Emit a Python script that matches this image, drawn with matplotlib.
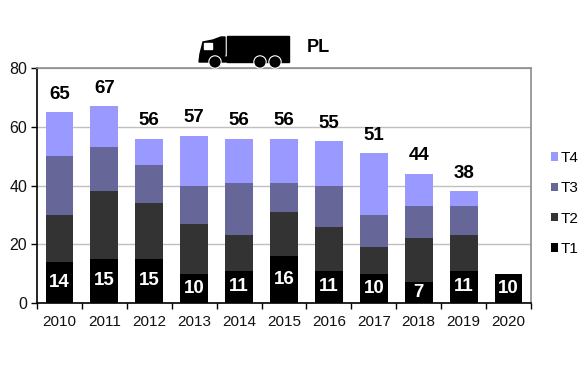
import matplotlib
matplotlib.use("Agg")
import matplotlib.pyplot as plt
import numpy as np
from matplotlib.patches import Circle, Polygon, Rectangle
from matplotlib.transforms import IdentityTransform

W, H = 585, 366

years = ["2010", "2011", "2012", "2013", "2014", "2015", "2016", "2017", "2018", "2019", "2020"]
t1 = [14, 15, 15, 10, 11, 16, 11, 10, 7, 11, 10]
t2 = [16, 23, 19, 17, 12, 15, 15, 9, 15, 12, 0]
t3 = [20, 15, 13, 13, 18, 10, 14, 11, 11, 10, 0]
t4 = [15, 14, 9, 17, 15, 15, 15, 21, 11, 5, 0]
totals = [65, 67, 56, 57, 56, 56, 55, 51, 44, 38]

series = [("T1", t1, "#000000"), ("T2", t2, "#333333"), ("T3", t3, "#666699"), ("T4", t4, "#9999ff")]

plt.rcParams["font.family"] = ["Liberation Sans", "DejaVu Sans"]

fig = plt.figure(figsize=(W / 100, H / 100), dpi=100)
ax = fig.add_axes([37 / W, 1 - 303 / H, (531 - 37) / W, (303 - 68) / H])

x = np.arange(len(years))
bottom = np.zeros(len(years))
for name, values, color in series:
    ax.bar(x, values, 0.62, bottom=bottom, color=color, label=name, zorder=3)
    bottom += np.array(values)

ax.set_xlim(-0.5, len(years) - 0.5)
ax.set_ylim(0, 80)
ax.set_yticks([0, 20, 40, 60, 80])
ax.set_xticks(x)
ax.set_xticklabels(years)
ax.set_xticks(np.arange(-0.5, len(years)), minor=True)
ax.tick_params(axis="x", which="major", length=0, labelsize=11, pad=9, labelcolor="#111111")
ax.tick_params(axis="x", which="minor", length=4, width=1, color="black")
ax.tick_params(axis="y", length=4, width=1, labelsize=11.5, pad=3, labelcolor="#111111")
ax.grid(axis="y", color="#c0c0c0", linewidth=1, zorder=0)

ax.spines["left"].set_color("black")
ax.spines["bottom"].set_color("black")
ax.spines["top"].set_color("#8c8c8c")
ax.spines["right"].set_color("#8c8c8c")
for spine in ax.spines.values():
    spine.set_linewidth(1.2)

# totals above the bars, T1 inside
for i, total in enumerate(totals):
    ax.annotate(str(total), (x[i], total), xytext=(0, 13), textcoords="offset points",
                ha="center", va="center", fontsize=13.5, fontweight="bold", color="black", zorder=5)
for i, v in enumerate(t1):
    ax.text(x[i], v / 2, str(v), ha="center", va="center", fontsize=13.5,
            fontweight="bold", color="white", zorder=5)

handles, labels = ax.get_legend_handles_labels()
ax.legend(handles[::-1], labels[::-1], loc="upper left", bbox_to_anchor=(551 / W, 1 - 151 / H),
          bbox_transform=fig.transFigure, frameon=False, fontsize=11, labelspacing=1.07,
          handlelength=0.46, handleheight=0.46, handletextpad=0.2, borderpad=0, borderaxespad=0)


# truck icon, in pixels from the top left
def P(a, b):
    return (a / W, 1 - b / H)


tr = fig.transFigure
fig.patches.append(Rectangle(P(227, 62), 62 / W, 26 / H, color="black", transform=tr))
cab = [P(199, 62), P(200, 54), P(203, 42), P(213, 40), P(221, 37), P(225, 37),
       P(225, 55), P(223, 57), P(227, 57), P(227, 62)]
fig.patches.append(Polygon(cab, closed=True, color="black", transform=tr))
fig.patches.append(Rectangle(P(204, 49), 8 / W, 6 / H, color="white", transform=tr))
for cx in [215, 260, 275]:
    fig.patches.append(Circle((cx, H - 62), 6.2, facecolor="black", edgecolor="white", linewidth=0.8,
                              transform=IdentityTransform(), zorder=4))

fig.text(307 / W, 1 - 47 / H, "PL", ha="left", va="center", fontsize=13, fontweight="bold", color="black")

fig.savefig("out.png", dpi=100)
